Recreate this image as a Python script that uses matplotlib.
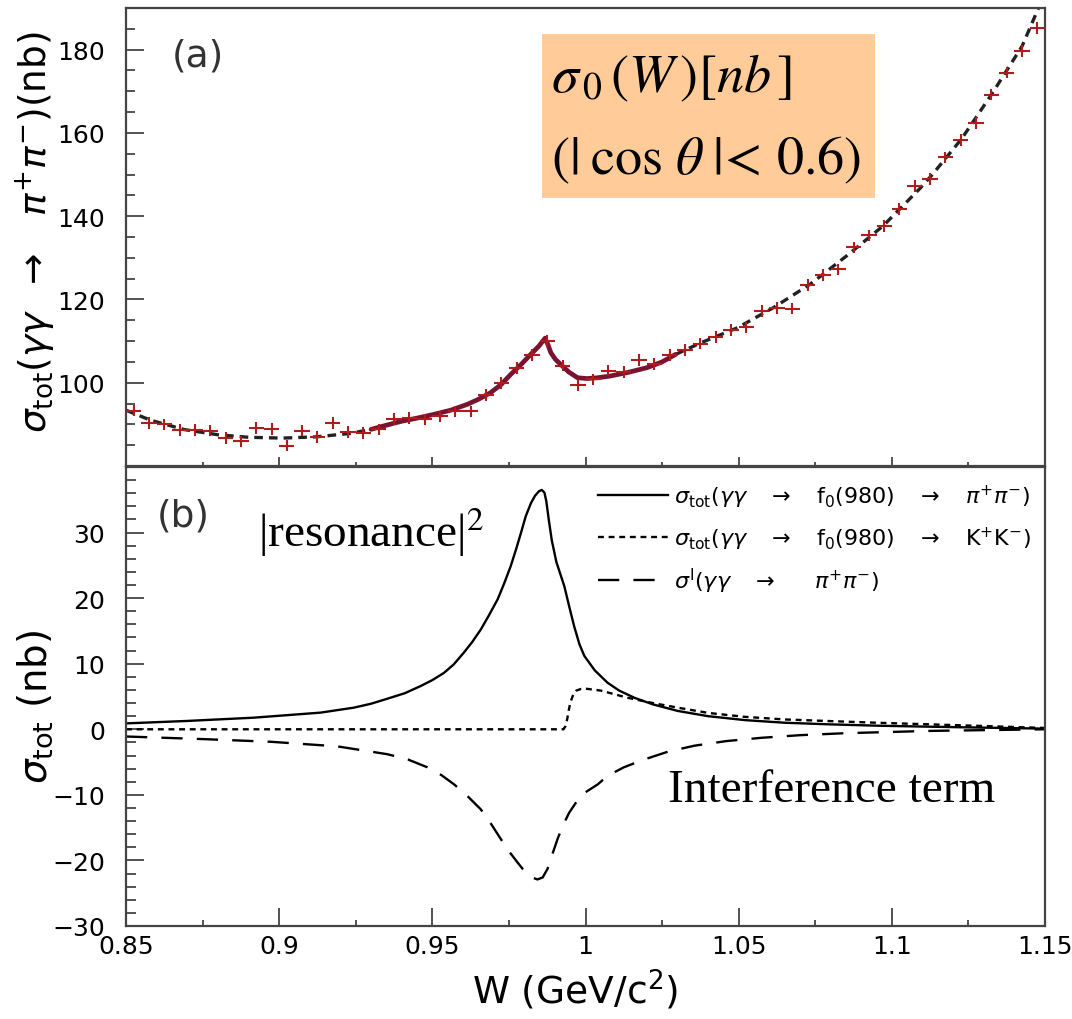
import matplotlib
matplotlib.use("Agg")
import matplotlib.pyplot as plt
from matplotlib.ticker import MultipleLocator, FixedLocator

# ---------------- data: panel (a) ----------------
W_bins = [0.8525, 0.8575, 0.8625, 0.8675, 0.8725, 0.8775, 0.8825, 0.8875, 0.8925, 0.8975,
          0.9025, 0.9075, 0.9125, 0.9175, 0.9225, 0.9275, 0.9325, 0.9375, 0.9425, 0.9475,
          0.9525, 0.9575, 0.9625, 0.9675, 0.9725, 0.9775, 0.9825, 0.9875, 0.9925, 0.9975,
          1.0025, 1.0075, 1.0125, 1.0175, 1.0225, 1.0275, 1.0325, 1.0375, 1.0425, 1.0475,
          1.0525, 1.0575, 1.0625, 1.0675, 1.0725, 1.0775, 1.0825, 1.0875, 1.0925, 1.0975,
          1.1025, 1.1075, 1.1125, 1.1175, 1.1225, 1.1275, 1.1325, 1.1375, 1.1425, 1.1475]
sigma_data = [93.3, 90.4, 90.0, 88.7, 88.7, 88.5, 86.7, 85.9, 89.2, 88.9,
              84.9, 88.5, 86.9, 90.4, 88.1, 87.9, 88.8, 91.3, 91.6, 91.2,
              91.9, 93.1, 93.1, 97.1, 99.9, 103.5, 106.7, 110.0, 104.1, 99.5,
              100.8, 102.9, 102.5, 105.4, 104.5, 106.7, 107.8, 109.4, 111.0, 112.6,
              113.3, 117.2, 118.0, 117.8, 123.4, 125.8, 127.2, 132.5, 135.4, 137.7,
              141.7, 147.3, 148.9, 154.1, 158.3, 162.4, 169.2, 174.5, 179.6, 185.2]
bin_half_width = 0.0025
sigma_err = 1.4

# fit outside the fitted window (dashed)
W_fit_low = [0.850, 0.858, 0.869, 0.880, 0.890, 0.901, 0.912, 0.923, 0.930]
sigma_fit_low = [93.4, 91.0, 88.75, 87.5, 86.9, 86.7, 87.0, 87.8, 88.8]
W_fit_high = [1.0294, 1.0377, 1.0496, 1.0615, 1.0734, 1.0853, 1.0972, 1.1091, 1.1130,
              1.1228, 1.1326, 1.1425, 1.1480]
sigma_fit_high = [106.8, 109.6, 113.2, 118.1, 123.7, 130.5, 137.7, 146.6, 149.8,
                  158.6, 169.3, 180.8, 190.2]

# fit inside the fitted window (solid)
W_res_fit = [0.930, 0.935, 0.940, 0.945, 0.9505, 0.956, 0.9614, 0.965, 0.969, 0.9725,
             0.9756, 0.979, 0.9821, 0.9848, 0.9868, 0.9878, 0.9887, 0.9902, 0.9919, 0.9945,
             0.9974, 1.0005, 1.004, 1.008, 1.014, 1.020, 1.025, 1.0294]
sigma_res_fit = [88.8, 89.8, 90.75, 91.5, 92.4, 93.4, 94.8, 96.0, 97.6, 99.6,
                 102.0, 104.4, 106.8, 108.8, 110.7, 109.0, 107.2, 105.6, 104.4, 102.6,
                 101.2, 101.0, 101.2, 101.6, 102.5, 103.6, 105.0, 106.8]

# ---------------- data: panel (b) ----------------
W_pipi = [0.850, 0.8699, 0.8917, 0.9135, 0.9244, 0.930, 0.9353, 0.941, 0.9462, 0.950,
          0.9538, 0.957, 0.9603, 0.963, 0.9658, 0.9685, 0.9713, 0.9735, 0.9756, 0.9773,
          0.9789, 0.9805, 0.9822, 0.9835, 0.9848, 0.9857, 0.9866, 0.9872, 0.9880, 0.9890,
          0.9905, 0.9931, 0.9948, 0.9963, 0.998, 0.9996, 1.003, 1.0072, 1.011, 1.016,
          1.022, 1.0301, 1.040, 1.052, 1.065, 1.0792, 1.095, 1.1119, 1.130, 1.150]
res_pipi = [0.9, 1.27, 1.77, 2.54, 3.3, 3.9, 4.66, 5.5, 6.6, 7.5,
            8.6, 9.9, 11.7, 13.3, 15.2, 17.4, 19.8, 22.3, 24.9, 27.4,
            29.9, 32.5, 34.5, 35.6, 36.3, 36.5, 36.1, 34.8, 32.0, 28.8,
            25.5, 21.8, 18.5, 15.7, 13.0, 11.2, 9.0, 7.1, 5.9, 4.8,
            3.8, 2.8, 2.0, 1.4, 1.0, 0.76, 0.55, 0.4, 0.25, 0.1]

W_kk = [0.850, 0.9928, 0.9935, 0.994, 0.9945, 0.995, 0.996, 0.997, 0.9985, 1.000,
        1.005, 1.0138, 1.022, 1.0301, 1.040, 1.0519, 1.065, 1.0792, 1.095, 1.1119,
        1.130, 1.150]
res_kk = [0.0, 0.0, 0.5, 1.5, 2.8, 4.0, 5.3, 5.9, 6.15, 6.2,
          5.9, 4.8, 4.0, 3.3, 2.5, 1.9, 1.5, 1.26, 1.0, 0.76,
          0.5, 0.2]

W_int = [0.850, 0.8753, 0.8971, 0.9189, 0.9353, 0.942, 0.9484, 0.953, 0.9571, 0.9615,
         0.9658, 0.969, 0.9723, 0.975, 0.9778, 0.980, 0.982, 0.9843, 0.986, 0.9876,
         0.989, 0.9909, 0.9928, 0.9947, 0.997, 0.999, 1.004, 1.0072, 1.0125, 1.0192,
         1.027, 1.0356, 1.046, 1.0574, 1.070, 1.0846, 1.1119, 1.150]
interf = [-1.1, -1.5, -1.9, -2.6, -3.8, -4.6, -5.8, -7.0, -8.4, -10.2,
          -12.2, -14.3, -16.7, -18.6, -20.3, -21.6, -22.5, -22.9, -22.6, -21.3,
          -19.3, -16.7, -14.5, -12.7, -11.1, -9.9, -8.4, -7.1, -5.8, -4.6,
          -3.4, -2.5, -1.8, -1.3, -0.9, -0.6, -0.25, 0.0]

legend_labels = [r"$\sigma_{\rm tot}(\gamma\gamma\quad\rightarrow\quad{\rm f_0(980)}\quad\rightarrow\quad\pi^{+}\pi^{-})$",
                 r"$\sigma_{\rm tot}(\gamma\gamma\quad\rightarrow\quad{\rm f_0(980)}\quad\rightarrow\quad{\rm K^{+}K^{-}})$",
                 r"$\sigma^{\rm I}(\gamma\gamma\quad\rightarrow\quad\ \ \pi^{+}\pi^{-})$"]

x_ticks = [0.85, 0.9, 0.95, 1.0, 1.05, 1.1, 1.15]
x_ticklabels = ["0.85", "0.9", "0.95", "1", "1.05", "1.1", "1.15"]
ya_ticks = [100, 120, 140, 160, 180]
yb_ticks = [-30, -20, -10, 0, 10, 20, 30]

# ---------------- figure ----------------
plt.rcParams["font.family"] = ["DejaVu Sans"]
plt.rcParams["mathtext.fontset"] = "dejavusans"

W_PX, H_PX = 1072, 1020
fig = plt.figure(figsize=(W_PX / 100, H_PX / 100), dpi=100)

def axes_px(x0, y0, x1, y1):
    return [x0 / W_PX, 1 - y1 / H_PX, (x1 - x0) / W_PX, (y1 - y0) / H_PX]

ax1 = fig.add_axes(axes_px(126, 9, 1045, 467))
ax2 = fig.add_axes(axes_px(126, 468, 1045, 927))

frame_col = "#444444"
for ax in (ax1, ax2):
    for sp in ax.spines.values():
        sp.set_linewidth(1.6)
        sp.set_color(frame_col)
    ax.set_xlim(0.85, 1.15)
    ax.xaxis.set_major_locator(MultipleLocator(0.05))
    ax.xaxis.set_minor_locator(MultipleLocator(0.025))
    ax.tick_params(which="both", direction="in", top=False, right=False,
                   colors=frame_col, labelcolor="black", width=1.3)

# ---- panel (a)
ax1.set_ylim(80, 190)
ax1.yaxis.set_major_locator(FixedLocator(ya_ticks))
ax1.yaxis.set_minor_locator(MultipleLocator(5))
ax1.tick_params(axis="y", which="major", length=13, labelsize=18, pad=15)
ax1.tick_params(axis="y", which="minor", length=6.5)
ax1.tick_params(axis="x", which="major", length=6.5)
ax1.tick_params(axis="x", which="minor", length=3)
ax1.tick_params(axis="x", labelbottom=False)

ax1.plot(W_fit_low, sigma_fit_low, color="#222222", lw=2.4, ls=(0, (2.6, 1.8)), zorder=2)
ax1.plot(W_fit_high, sigma_fit_high, color="#222222", lw=2.4, ls=(0, (2.6, 1.8)), zorder=2)
ax1.plot(W_res_fit, sigma_res_fit, color="#7a1232", lw=3.4, solid_capstyle="round",
         solid_joinstyle="round", zorder=3)
ax1.errorbar(W_bins, sigma_data, xerr=bin_half_width, yerr=sigma_err, fmt="none",
             ecolor="#b01c1c", elinewidth=1.5, capsize=0, zorder=4)

fig.text(198 / W_PX, 1 - 57 / H_PX, "(a)", fontsize=27, ha="center", va="center",
         color="#333333")

# orange box with formula
bx0, by0, bx1, by1 = 542, 35, 875, 199
fig.patches.append(plt.Rectangle((bx0 / W_PX, 1 - by1 / H_PX), (bx1 - bx0) / W_PX,
                                 (by1 - by0) / H_PX, transform=fig.transFigure,
                                 facecolor="#ffcc99", edgecolor="none", zorder=5))
fig.text(551 / W_PX, 1 - 78 / H_PX, r"$\sigma_{\,0}\,(W\,)[nb\,]$", fontsize=39,
         ha="left", va="center", math_fontfamily="stix", zorder=6)
fig.text(551 / W_PX, 1 - 160 / H_PX, r"$(|\;\cos\,\theta\;|\!<\,0.6)$", fontsize=39,
         ha="left", va="center", math_fontfamily="stix", zorder=6)

# ---- panel (b)
ax2.set_ylim(-30, 40)
ax2.yaxis.set_major_locator(FixedLocator(yb_ticks))
ax2.yaxis.set_minor_locator(MultipleLocator(2))
ax2.tick_params(axis="y", which="major", length=13, labelsize=18, pad=15)
ax2.tick_params(axis="y", which="minor", length=7)
ax2.tick_params(axis="x", which="major", length=13, labelsize=18, pad=6)
ax2.tick_params(axis="x", which="minor", length=4)
ax2.set_xticks(x_ticks)
ax2.set_xticklabels(x_ticklabels)

ax2.plot(W_pipi, res_pipi, color="black", lw=1.7, label=legend_labels[0])
ax2.plot(W_kk, res_kk, color="black", lw=1.7, ls=(0, (2.5, 2.0)), label=legend_labels[1])
ax2.plot(W_int, interf, color="black", lw=1.7, ls=(0, (9, 6)), label=legend_labels[2])

leg = ax2.legend(loc="upper right", frameon=False, fontsize=16, handlelength=3.15,
                 handletextpad=0.27, labelspacing=0.64, borderaxespad=0.0,
                 bbox_to_anchor=(0.994, 0.985))

fig.text(183 / W_PX, 1 - 517 / H_PX, "(b)", fontsize=27, ha="center", va="center",
         color="#333333")

fig.text(258 / W_PX, 1 - 547 / H_PX, r"|resonance|$^{\rm 2}$", fontsize=34,
         family="Liberation Serif", ha="left", va="baseline", math_fontfamily="stix")
fig.text(668 / W_PX, 1 - 802 / H_PX, "Interference term", fontsize=34,
         family="Liberation Serif", ha="left", va="baseline")

# axis labels
fig.text(35 / W_PX, 1 - 232 / H_PX,
         r"$\sigma_{\rm tot}(\gamma\gamma\;\;\rightarrow\;\;\;\pi^{+}\pi^{-})$(nb)",
         fontsize=27, rotation=90, ha="center", va="center")
fig.text(35 / W_PX, 1 - 707 / H_PX, r"$\sigma_{\rm tot}$ (nb)",
         fontsize=28, rotation=90, ha="center", va="center")
fig.text(575 / W_PX, 1 - 990 / H_PX, r"W (GeV/c$^{\rm 2}$)", fontsize=27,
         ha="center", va="center")

fig.savefig("out.png", dpi=100)
